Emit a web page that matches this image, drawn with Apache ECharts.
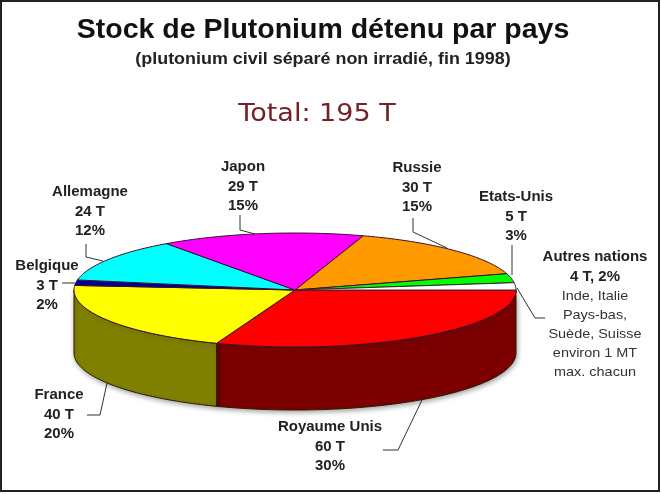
<!DOCTYPE html>
<html><head><meta charset="utf-8">
<style>html,body{margin:0;padding:0;background:#fff}#c{width:661px;height:494px;filter:blur(0.4px)}</style>
<script src="https://cdn.jsdelivr.net/npm/echarts@6/dist/echarts.min.js"></script>
</head><body><div id="c"></div>
<script>
const names = ['Royaume Unis','France','Belgique','Allemagne','Japon','Russie','Etats-Unis','Autres nations'];
const tonnes = [60,40,3,24,29,30,5,4];
const percents = [30,20,2,12,15,15,3,2];
const topColors = ['#ff0000','#ffff00','#000099','#00ffff','#ff00ff','#ff9900','#00ff00','#ffffff'];
const sideColors = ['#7d0000','#808000','#000060','#008080','#800080','#804000','#008000','#808080'];
const autresDetail = ['Inde, Italie','Pays-bas,','Suède, Suisse','environ 1 MT','max. chacun'];

const total = tonnes.reduce((a,b)=>a+b,0);
const DEPTH = 63;
const sliceData = tonnes.map((v,i)=>[i,v]);
function range(i){
  let s=0; for(let k=0;k<i;k++) s+=tonnes[k];
  return [s/total*Math.PI*2,(s+tonnes[i])/total*Math.PI*2];
}
function arc(api,a,b){
  const n=Math.max(2,Math.ceil((b-a)/0.02)), pts=[];
  for(let k=0;k<=n;k++){const t=a+(b-a)*k/n; pts.push(api.coord([Math.cos(t),Math.sin(t)]));}
  return pts;
}
function renderTop(params,api){
  const i=api.value(0),[a,b]=range(i);
  const pts=[api.coord([0,0])].concat(arc(api,a,b));
  return {type:'polygon',shape:{points:pts},
    style:{fill:topColors[i],stroke:i===7?'#3a2a2a':'#3a1030',lineWidth:1}};
}
function renderSide(params,api){
  const i=api.value(0),[a,b]=range(i);
  if(a>=Math.PI) return null;
  const top=arc(api,a,Math.min(b,Math.PI));
  const bottom=top.map(p=>[p[0],p[1]+DEPTH]).reverse();
  return {type:'polygon',shape:{points:top.concat(bottom)},
    style:{fill:sideColors[i],stroke:'#2a1a00',lineWidth:1,
      shadowBlur:5,shadowColor:'rgba(0,0,0,0.35)',shadowOffsetX:1,shadowOffsetY:2}};
}
const labelFont='Liberation Sans';
const labelStretch={scaleX:1.07};
function lbl(i){return names[i]+'\n'+tonnes[i]+' T\n'+percents[i]+'%';}
function text(x,y,t,o,extra){
  return Object.assign({type:'text',x:x,y:y,silent:true,style:Object.assign({text:t,textAlign:'center',textVerticalAlign:'middle',
    font:'bold 14px "'+labelFont+'"',fill:'#222',lineHeight:19.5},o||{})},extra||labelStretch);
}
function leader(pts){
  return {type:'polyline',silent:true,shape:{points:pts},style:{fill:null,stroke:'#333',lineWidth:1}};
}
const graphics=[
  {type:'rect',silent:true,shape:{x:1,y:1,width:658,height:490},style:{fill:null,stroke:'#222',lineWidth:2}},
  text(323,30,'Stock de Plutonium détenu par pays',{font:'bold 28.5px "Liberation Sans"',fill:'#111'},{}),
  text(323,60,'(plutonium civil séparé non irradié, fin 1998)',{font:'bold 16px "Liberation Sans"',fill:'#222'},{scaleX:1.12}),
  text(317,114,'Total: '+total+' T',{font:'25px "DejaVu Sans"',fill:'#762028'},{scaleX:1.08}),
  text(243,187,lbl(4)),
  text(90,212,lbl(3)),
  text(47,286,lbl(2)),
  text(417,188,lbl(5)),
  text(516,217,lbl(6)),
  text(59,415,lbl(1)),
  text(330,447,lbl(0)),
  text(595,267,names[7]+'\n'+tonnes[7]+' T, '+percents[7]+'%',{}),
  text(595,334,autresDetail.join('\n'),{font:'13.5px "Liberation Sans"',fill:'#333',lineHeight:19}),
  leader([[240,215],[240,230],[255,234]]),
  leader([[86,244],[86,257],[103,261]]),
  leader([[62,283],[75,283]]),
  leader([[107,383],[100,415],[87,415]]),
  leader([[413,218],[413,232],[447,248]]),
  leader([[512,245],[512,275]]),
  leader([[517,288],[535,318],[545,318]]),
  leader([[422,400],[398,450],[383,450]])
];
const chart=echarts.init(document.getElementById('c'));
chart.setOption({
  animation:false,
  backgroundColor:'#fff',
  grid:{left:74,top:233,width:442,height:114},
  xAxis:{type:'value',min:-1,max:1,show:false},
  yAxis:{type:'value',min:-1,max:1,inverse:true,show:false},
  graphic:{elements:graphics},
  series:[
    {type:'custom',clip:false,silent:true,renderItem:renderSide,data:sliceData,encode:{x:1,y:1}},
    {type:'custom',clip:false,silent:true,renderItem:renderTop,data:sliceData,encode:{x:1,y:1}}
  ]
});
</script></body></html>
